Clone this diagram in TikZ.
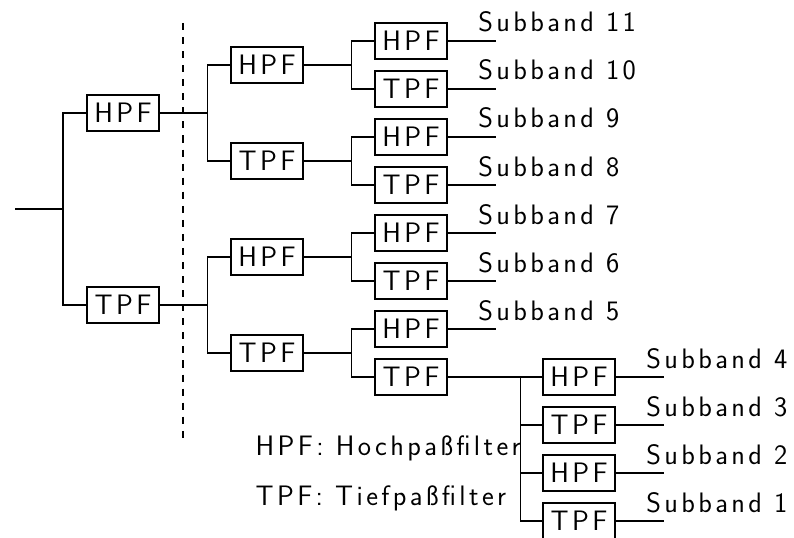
\documentclass[tikz,border=0pt]{standalone}
\usepackage{fontspec}
\usepackage{tikz}
\usepackage{xcolor}
\newfontfamily\labfam{Latin Modern Sans}[LetterSpace=12]
\newcommand{\boxwd}{72}
\newcommand{\boxht}{36}
\newcommand{\armlen}{48}
\newcommand{\labfont}{\fontsize{20}{24}\selectfont\labfam}

\begin{document}
\begin{tikzpicture}[x=0.025cm, y=-0.025cm, line width=0.9pt,
    filt/.style={draw, minimum width=\boxwd*0.025cm, minimum height=\boxht*0.025cm, inner sep=0pt, font=\labfont},
    lab/.style={anchor=base west, inner sep=0pt, font=\labfont}]
    \useasboundingbox (0, 0) rectangle (794, 538);

    % first stage
    \coordinate (in) at (15, 209);
    \coordinate (j0) at (63, 209);
    \node [filt] (h1) at (123, 113) {HPF};
    \node [filt] (t1) at (123, 305) {TPF};

    % second stage
    \node [filt] (hh) at (267, 65) {HPF};
    \node [filt] (ht) at (267, 161) {TPF};
    \node [filt] (th) at (267, 257) {HPF};
    \node [filt] (tt) at (267, 353) {TPF};

    % third stage
    \node [filt] (b11) at (411, 41) {HPF};
    \node [filt] (b10) at (411, 89) {TPF};
    \node [filt] (b9) at (411, 137) {HPF};
    \node [filt] (b8) at (411, 185) {TPF};
    \node [filt] (b7) at (411, 233) {HPF};
    \node [filt] (b6) at (411, 281) {TPF};
    \node [filt] (b5) at (411, 329) {HPF};
    \node [filt] (low) at (411, 377) {TPF};

    % fourth stage
    \node [filt] (b4) at (579, 377) {HPF};
    \node [filt] (b3) at (579, 425) {TPF};
    \node [filt] (b2) at (579, 473) {HPF};
    \node [filt] (b1) at (579, 521) {TPF};

    % dashed separator
    \draw [dash pattern=on 5pt off 5pt] (183, 23) -- (183, 443);

    % branches
    \draw (in) -- (j0);
    \draw (h1.west) -| (j0);
    \draw (t1.west) -| (j0);
    \draw (h1.east) -- ++(\armlen, 0) coordinate (j1);
    \draw (hh.west) -| (j1);
    \draw (ht.west) -| (j1);
    \draw (t1.east) -- ++(\armlen, 0) coordinate (j2);
    \draw (th.west) -| (j2);
    \draw (tt.west) -| (j2);
    \draw (hh.east) -- ++(\armlen, 0) coordinate (j3);
    \draw (b11.west) -| (j3);
    \draw (b10.west) -| (j3);
    \draw (ht.east) -- ++(\armlen, 0) coordinate (j4);
    \draw (b9.west) -| (j4);
    \draw (b8.west) -| (j4);
    \draw (th.east) -- ++(\armlen, 0) coordinate (j5);
    \draw (b7.west) -| (j5);
    \draw (b6.west) -| (j5);
    \draw (tt.east) -- ++(\armlen, 0) coordinate (j6);
    \draw (b5.west) -| (j6);
    \draw (low.west) -| (j6);
    \draw (low.east) -- ++(73, 0) coordinate (j7);
    \draw (b4.west) -| (j7);
    \draw (b3.west) -| (j7);
    \draw (b2.west) -| (j7);
    \draw (b1.west) -| (j7);

    % outputs
    \foreach \n in {11, 10, 9, 8, 7, 6, 5, 4, 3, 2, 1} {
        \draw (b\n.east) -- ++(\armlen, 0) coordinate (o\n);
        \node [lab] (s\n) at ([shift={(-18, -9)}]o\n) {Subband \n};
    }

    % legend
    \node [lab] (leg1) at (255, 455) {HPF: Hochpaßfilter};
    \node [lab] (leg2) at (255, 505) {TPF: Tiefpaßfilter};
\end{tikzpicture}
\end{document}
